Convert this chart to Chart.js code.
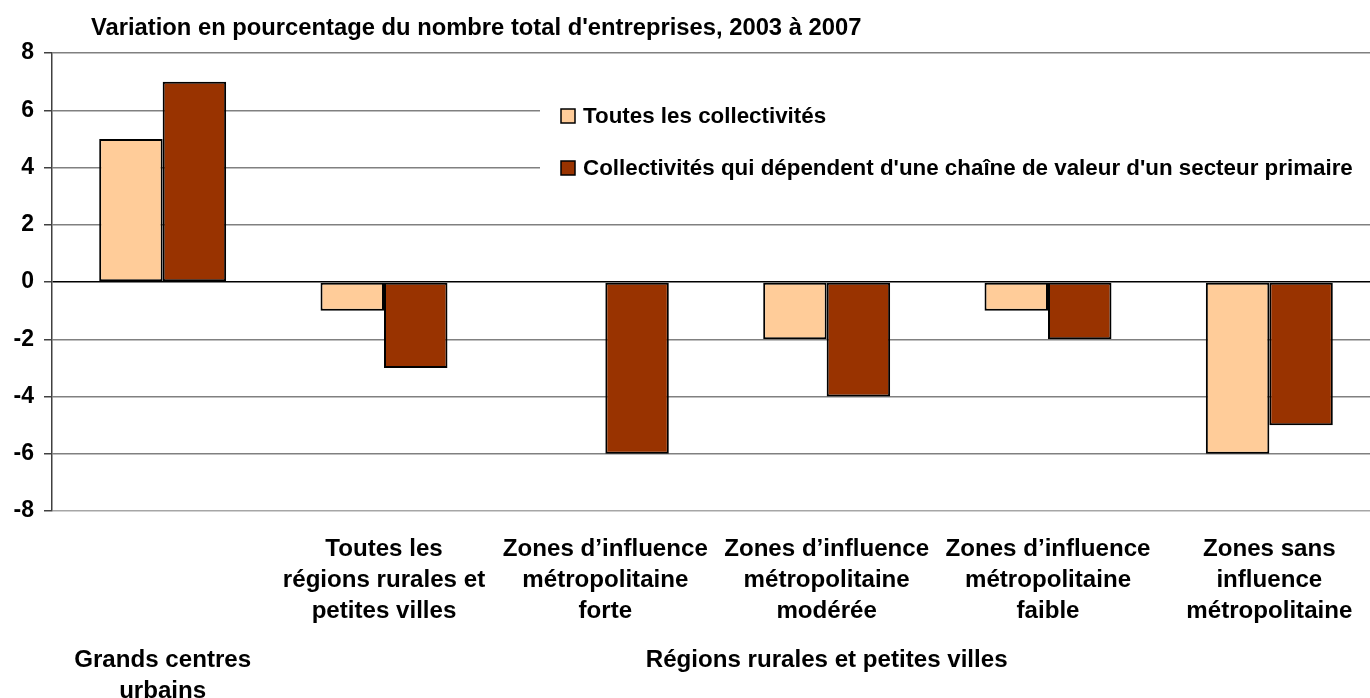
<!DOCTYPE html>
<html><head><meta charset="utf-8">
<script src="https://cdn.jsdelivr.net/npm/chart.js@4.4.1/dist/chart.umd.min.js"></script>
<style>html,body{margin:0;padding:0;overflow:hidden;background:#fff}
#wrap{position:relative;width:1400px;height:698px}</style>
</head><body><div id="wrap"><canvas id="c"></canvas></div>
<script>
const title = "Variation en pourcentage du nombre total d'entreprises, 2003 à 2007";
const categories = [
  [''],
  ['Toutes les', 'régions rurales et', 'petites villes'],
  ['Zones d’influence', 'métropolitaine', 'forte'],
  ['Zones d’influence', 'métropolitaine', 'modérée'],
  ['Zones d’influence', 'métropolitaine', 'faible'],
  ['Zones sans', 'influence', 'métropolitaine']
];
const groups = [
  { label: ['Grands centres', 'urbains'], first: 0, last: 0 },
  { label: ['Régions rurales et petites villes'], first: 1, last: 5 }
];
const seriesNames = ['Toutes les collectivités', "Collectivités qui dépendent d'une chaîne de valeur d'un secteur primaire"];
const toutes = [5, -1, 0, -2, -1, -6];
const primaire = [7, -3, -6, -4, -2, -5];
const yMin = -8, yMax = 8, yStep = 2;

const colors = ['#FFCC99', '#993300'];
const FAM = '"Liberation Sans", Arial, Helvetica, sans-serif';

function fitSize(ctx, text, target) {
  ctx.font = 'bold 100px ' + FAM;
  return 100 * target / ctx.measureText(text).width;
}

const custom = {
  id: 'custom',
  afterDraw(chart) {
    const ctx = chart.ctx;
    const xs = chart.scales.x;
    ctx.save();
    ctx.fillStyle = '#000';
    // title
    const ts = fitSize(ctx, title, 771);
    ctx.font = 'bold ' + ts + 'px ' + FAM;
    ctx.textAlign = 'left';
    ctx.textBaseline = 'alphabetic';
    ctx.fillText(title, 91, 35);

    // legend
    ctx.fillStyle = '#fff';
    ctx.fillRect(540, 80, 880, 125);
    const ls = fitSize(ctx, seriesNames[1], 770);
    ctx.font = 'bold ' + ls + 'px ' + FAM;
    ctx.textBaseline = 'middle';
    const rows = [116, 168];
    seriesNames.forEach((n, i) => {
      ctx.fillStyle = colors[i];
      ctx.fillRect(561, rows[i] - 7, 14, 14);
      ctx.strokeStyle = '#000';
      ctx.lineWidth = 1.5;
      ctx.strokeRect(561, rows[i] - 7, 14, 14);
      ctx.fillStyle = '#000';
      ctx.fillText(n, 583, rows[i] + 1);
    });

    // category labels
    const cs = fitSize(ctx, 'Zones d’influence', 205);
    ctx.font = 'bold ' + cs + 'px ' + FAM;
    ctx.textAlign = 'center';
    categories.forEach((lines, i) => {
      const x = xs.getPixelForValue(i);
      lines.forEach((t, j) => ctx.fillText(t, x, 549 + j * 31));
    });
    groups.forEach(g => {
      const x = (xs.getPixelForValue(g.first) + xs.getPixelForValue(g.last)) / 2;
      g.label.forEach((t, j) => ctx.fillText(t, x, 660 + j * 31));
    });
    ctx.restore();
  }
};

new Chart(document.getElementById('c'), {
  type: 'bar',
  data: {
    labels: categories.map(c => c.join(' ')),
    datasets: [
      { label: seriesNames[0], data: toutes, backgroundColor: colors[0], borderColor: '#000', borderWidth: 2, borderSkipped: false },
      { label: seriesNames[1], data: primaire, backgroundColor: colors[1], borderColor: '#000', borderWidth: 2, borderSkipped: false }
    ]
  },
  options: {
    responsive: true,
    maintainAspectRatio: false,
    animation: false,
    events: [],
    layout: { padding: { left: 0, top: 53, right: 20, bottom: 187 } },
    datasets: { bar: { categoryPercentage: 0.5736, barPercentage: 1 } },
    plugins: { legend: { display: false }, title: { display: false }, tooltip: { enabled: false } },
    scales: {
      x: {
        ticks: { display: false },
        grid: { display: false },
        border: { display: false },
        afterFit(s) { s.height = 0; }
      },
      y: {
        min: yMin, max: yMax,
        ticks: { stepSize: yStep, color: '#000', padding: 10, font: { family: FAM, weight: 'bold', size: 23 } },
        grid: {
          color: c => c.tick && c.tick.value === 0 ? '#000' : (c.tick && c.tick.value === yMin ? '#a6a6a6' : '#808080'),
          lineWidth: 1.5,
          tickLength: 8,
          tickColor: '#404040'
        },
        border: { color: '#404040', width: 1.5 },
        afterFit(s) { s.width = 52; }
      }
    }
  },
  plugins: [custom]
});
</script>
</body></html>
